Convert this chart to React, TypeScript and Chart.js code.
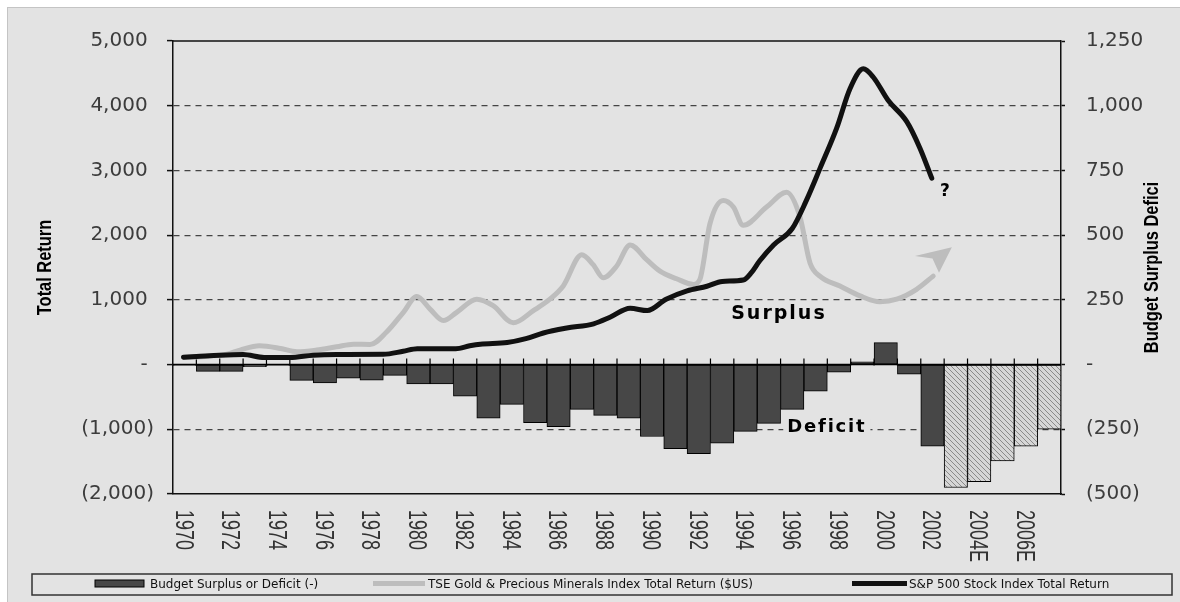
import React, { useEffect, useRef } from "react";
import { Chart, registerables } from "chart.js";

Chart.register(...registerables);

// Fiscal years; "E" marks an estimate
const yearLabels = [
  "1970", "1971", "1972", "1973", "1974", "1975", "1976", "1977", "1978", "1979",
  "1980", "1981", "1982", "1983", "1984", "1985", "1986", "1987", "1988", "1989",
  "1990", "1991", "1992", "1993", "1994", "1995", "1996", "1997", "1998", "1999",
  "2000", "2001", "2002", "2003E", "2004E", "2005E", "2006E", "2007E",
];

// Budget surplus (+) or deficit (-), right axis
const budgetBalance = [
  -3, -26, -26, -8, -3, -61, -71, -53, -60, -42,
  -75, -75, -122, -207, -154, -224, -240, -173, -196, -207,
  -278, -325, -344, -304, -258, -227, -173, -103, -29, 11,
  85, -37, -315, -475, -452, -372, -315, -250,
];

// S&P 500 Stock Index total return, left axis
const spYears = [
  1970.45, 1971.0, 1972.0, 1973.0, 1973.9, 1975.0, 1976.0, 1977.0, 1979.0, 1979.85,
  1980.45, 1982.1, 1982.7, 1983.15, 1984.3, 1985.1, 1985.85, 1986.85, 1988.0, 1988.7,
  1989.56, 1990.3, 1991.1, 1992.0, 1992.85, 1993.5, 1994.4, 1994.75, 1995.1, 1995.7,
  1996.5, 1997.1, 1997.7, 1998.4, 1998.97, 1999.54, 1999.97, 2000.6, 2001.4, 2001.96,
  2002.47,
];
const spTotalReturn = [
  115, 125, 145, 155, 110, 110, 145, 155, 158, 205,
  245, 245, 290, 315, 340, 400, 488, 564, 630, 731,
  870, 834, 1010, 1140, 1210, 1285, 1306, 1420, 1600, 1849,
  2103, 2534, 3043, 3653, 4263, 4570, 4440, 4084, 3754, 3348,
  2880,
];

// TSE Gold & Precious Minerals Index total return, left axis
const goldYears = [
  1970.45, 1971.5, 1972.3, 1972.87, 1973.7, 1974.6, 1975.3, 1976.15, 1977.0, 1977.72,
  1978.43, 1979.14, 1979.86, 1980.43, 1981.0, 1981.57, 1982.14, 1983.0, 1983.7, 1984.56,
  1985.42, 1986.13, 1986.7, 1987.49, 1987.98, 1988.41, 1988.98, 1989.56, 1990.27, 1990.84,
  1991.55, 1992.27, 1992.55, 1992.98, 1993.55, 1993.98, 1994.4, 1995.4, 1996.26, 1996.83,
  1997.26, 1997.68, 1998.54, 1999.4, 2000.25, 2000.97, 2001.82, 2002.53,
];
const goldTotalReturn = [
  110, 130, 160, 224, 290, 249, 198, 224, 274, 315,
  310, 503, 808, 1052, 858, 681, 808, 1010, 910, 645,
  834, 1010, 1215, 1696, 1544, 1341, 1519, 1849, 1620, 1443,
  1326, 1239, 1320, 2180, 2534, 2434, 2153, 2434, 2662, 2281,
  1570, 1367, 1215, 1062, 971, 1010, 1163, 1367,
];

const BG = "#e3e3e3";
const BAR_FILL = "#474747";
const GOLD = "#bdbdbd";
const SP = "#111111";

function withCommas(n: number): string {
  return String(Math.abs(n)).replace(/\B(?=(\d{3})+(?!\d))/g, ",");
}

function accounting(v: number): string {
  if (v === 0) return "-";
  return v < 0 ? `(${withCommas(v)})` : withCommas(v);
}

function condensedText(
  ctx: CanvasRenderingContext2D,
  text: string,
  x: number,
  y: number,
  rotation: number,
  squeeze: number,
  font: string,
  color: string,
  align: CanvasTextAlign
) {
  ctx.save();
  ctx.translate(x, y);
  ctx.rotate(rotation);
  ctx.scale(squeeze, 1);
  ctx.font = font;
  ctx.fillStyle = color;
  ctx.textAlign = align;
  ctx.textBaseline = "middle";
  ctx.fillText(text, 0, 0);
  ctx.restore();
}

const decorations = {
  id: "decorations",
  beforeDatasetsDraw(chart: any) {
    const { ctx, chartArea: a } = chart;
    ctx.save();
    ctx.strokeStyle = "#111";
    ctx.lineWidth = 1.5;
    ctx.beginPath();
    ctx.moveTo(a.left, a.top);
    ctx.lineTo(a.right, a.top);
    ctx.stroke();
    ctx.restore();
  },
  afterDatasetDraw(chart: any, args: any) {
    if (args.index !== 0) return;
    const { ctx, chartArea: a, scales } = chart;
    const y0 = scales.y.getPixelForValue(0);
    const xs = scales.x;
    ctx.save();
    ctx.strokeStyle = "#000";
    ctx.lineWidth = 1.5;
    ctx.beginPath();
    ctx.moveTo(a.left, y0);
    ctx.lineTo(a.right, y0);
    ctx.stroke();
    ctx.lineWidth = 1.2;
    ctx.beginPath();
    const n = chart.data.labels.length;
    for (let i = 1; i < n; i++) {
      const xb = (xs.getPixelForValue(i - 1) + xs.getPixelForValue(i)) / 2;
      ctx.moveTo(xb, y0 - 6);
      ctx.lineTo(xb, y0 + 1);
    }
    ctx.stroke();
    ctx.restore();
  },
  afterDraw(chart: any) {
    const { ctx, chartArea: a, scales } = chart;
    const xs = scales.x;
    const x2 = scales.x2;
    const ys = scales.y;
    const mid = (a.top + a.bottom) / 2;

    // category labels, every other year, reading downwards
    chart.data.labels.forEach((lab: string, i: number) => {
      if (i % 2) return;
      condensedText(ctx, lab, xs.getPixelForValue(i) - 2, a.bottom + 16, Math.PI / 2, 0.69,
        '26px "Liberation Sans"', "#333", "left");
    });

    // axis titles
    condensedText(ctx, "Total Return", 37, mid, -Math.PI / 2, 0.82,
      'bold 20px "Liberation Sans"', "#000", "center");
    condensedText(ctx, "Budget Surplus Defici", 1144, mid, -Math.PI / 2, 0.82,
      'bold 20px "Liberation Sans"', "#000", "center");

    // annotations
    ctx.save();
    ctx.fillStyle = "#000";
    ctx.textAlign = "center";
    ctx.textBaseline = "middle";
    ctx.font = 'bold 19px "DejaVu Sans"';
    (ctx as any).letterSpacing = "2px";
    ctx.fillText("Surplus", x2.getPixelForValue(1995.93), ys.getPixelForValue(785));

    ctx.font = 'bold 18px "DejaVu Sans"';
    (ctx as any).letterSpacing = "1.8px";
    const dx = x2.getPixelForValue(1997.98);
    const dy = ys.getPixelForValue(-975);
    const dw = ctx.measureText("Deficit").width;
    ctx.fillStyle = BG;
    ctx.fillRect(dx - dw / 2 - 4, dy - 9, dw + 8, 18);
    ctx.fillStyle = "#000";
    ctx.fillText("Deficit", dx, dy);

    (ctx as any).letterSpacing = "0px";
    ctx.font = 'bold 17px "DejaVu Sans"';
    ctx.fillText("?", x2.getPixelForValue(2003.03), ys.getPixelForValue(2667));

    // arrow head continuing the gold line
    ctx.fillStyle = GOLD;
    ctx.beginPath();
    ctx.moveTo(x2.getPixelForValue(2003.33), ys.getPixelForValue(1814));
    ctx.lineTo(x2.getPixelForValue(2001.75), ys.getPixelForValue(1676));
    ctx.lineTo(x2.getPixelForValue(2002.5), ys.getPixelForValue(1640));
    ctx.lineTo(x2.getPixelForValue(2002.78), ys.getPixelForValue(1417));
    ctx.closePath();
    ctx.fill();
    ctx.restore();

    // legend
    const ds = chart.data.datasets;
    ctx.save();
    ctx.strokeStyle = "#333";
    ctx.lineWidth = 1.5;
    ctx.strokeRect(24, 566, 1140, 21);
    ctx.fillStyle = BAR_FILL;
    ctx.fillRect(87, 572, 49, 7);
    ctx.strokeStyle = "#000";
    ctx.lineWidth = 1;
    ctx.strokeRect(87, 572, 49, 7);
    ctx.lineCap = "butt";
    ctx.lineWidth = 5;
    ctx.strokeStyle = ds[1].borderColor;
    ctx.beginPath();
    ctx.moveTo(365, 575.5);
    ctx.lineTo(417, 575.5);
    ctx.stroke();
    ctx.strokeStyle = ds[2].borderColor;
    ctx.beginPath();
    ctx.moveTo(844, 575.5);
    ctx.lineTo(899, 575.5);
    ctx.stroke();
    ctx.fillStyle = "#111";
    ctx.font = '12px "DejaVu Sans"';
    ctx.textAlign = "left";
    ctx.textBaseline = "middle";
    ctx.fillText(ds[0].label, 142, 577);
    ctx.fillText(ds[1].label, 420, 577);
    ctx.fillText(ds[2].label, 901, 577);
    ctx.restore();
  },
};

export default function App() {
  const canvasRef = useRef<HTMLCanvasElement | null>(null);

  useEffect(() => {
    const canvas = canvasRef.current;
    if (!canvas) return;

    // hatch fill for estimated years
    const tile = document.createElement("canvas");
    tile.width = 5;
    tile.height = 5;
    const t = tile.getContext("2d")!;
    t.fillStyle = "#d6d6d6";
    t.fillRect(0, 0, 5, 5);
    t.strokeStyle = "#8a8a8a";
    t.lineWidth = 1;
    t.beginPath();
    t.moveTo(-1, -1);
    t.lineTo(6, 6);
    t.moveTo(-1, 4);
    t.lineTo(1, 6);
    t.moveTo(4, -1);
    t.lineTo(6, 1);
    t.stroke();
    const hatch = canvas.getContext("2d")!.createPattern(tile, "repeat");

    const barFills = yearLabels.map((y) => (y.endsWith("E") ? hatch : BAR_FILL));

    const chart = new Chart(canvas, {
      type: "bar",
      data: {
        labels: yearLabels,
        datasets: [
          {
            type: "bar",
            label: "Budget Surplus or Deficit (-)",
            data: budgetBalance,
            xAxisID: "x",
            yAxisID: "y1",
            backgroundColor: barFills as any,
            borderColor: "#000",
            borderWidth: 1,
            borderSkipped: false,
            grouped: false,
            barPercentage: 1,
            categoryPercentage: 1,
            order: 3,
          },
          {
            type: "line",
            label: "TSE Gold & Precious Minerals Index Total Return ($US)",
            data: goldYears.map((x, i) => ({ x, y: goldTotalReturn[i] })),
            xAxisID: "x2",
            yAxisID: "y",
            borderColor: GOLD,
            borderWidth: 5,
            pointRadius: 0,
            cubicInterpolationMode: "monotone",
            borderCapStyle: "round",
            borderJoinStyle: "round",
            order: 2,
          },
          {
            type: "line",
            label: "S&P 500 Stock Index Total Return",
            data: spYears.map((x, i) => ({ x, y: spTotalReturn[i] })),
            xAxisID: "x2",
            yAxisID: "y",
            borderColor: SP,
            borderWidth: 5,
            pointRadius: 0,
            cubicInterpolationMode: "monotone",
            borderCapStyle: "round",
            borderJoinStyle: "round",
            order: 1,
          },
        ] as any,
      },
      options: {
        animation: false,
        responsive: false,
        layout: { padding: { top: 27, left: 0, right: 0, bottom: 0 } },
        plugins: { legend: { display: false }, tooltip: { enabled: false } },
        scales: {
          x: {
            type: "category",
            offset: true,
            grid: { display: false, drawTicks: false },
            border: { display: true, color: "#111", width: 1.5 },
            ticks: { display: false },
            afterFit: (s: any) => {
              s.height = 108;
            },
          },
          x2: {
            type: "linear",
            min: 1970,
            max: 2008,
            offset: false,
            display: false,
          },
          y: {
            position: "left",
            min: -2000,
            max: 5000,
            ticks: {
              stepSize: 1000,
              padding: 13,
              color: "#3c3c3c",
              font: { family: "DejaVu Sans", size: 20 },
              callback: (v: any) => (Number(v) < 0 ? accounting(Number(v)) : accounting(Number(v)) + " "),
            },
            grid: {
              color: (c: any) =>
                c.tick && [5000, 0, -2000].includes(c.tick.value) ? "rgba(0,0,0,0)" : "#444",
              lineWidth: 1.2,
              tickLength: 6,
              tickColor: "#111",
              tickWidth: 1.5,
            },
            border: { display: true, color: "#111", width: 1.5, dash: [6, 5] },
            afterFit: (s: any) => {
              s.width = 165;
            },
          },
          y1: {
            position: "right",
            min: -500,
            max: 1250,
            ticks: {
              stepSize: 250,
              padding: 21,
              color: "#3c3c3c",
              font: { family: "DejaVu Sans", size: 20 },
              callback: (v: any) => accounting(Number(v)),
            },
            grid: {
              drawOnChartArea: false,
              tickLength: 4,
              tickColor: "#111",
              tickWidth: 1.5,
            },
            border: { display: true, color: "#111", width: 1.5 },
            afterFit: (s: any) => {
              s.width = 119;
            },
          },
        },
      } as any,
      plugins: [decorations],
    });

    return () => chart.destroy();
  }, []);

  return (
    <div
      style={{
        position: "fixed",
        left: 7,
        top: 7,
        width: 1172,
        height: 594,
        background: BG,
        borderTop: "1px solid #c4c4c4",
        borderLeft: "1px solid #c4c4c4",
      }}
    >
      <canvas ref={canvasRef} width={1172} height={594} style={{ display: "block" }} />
    </div>
  );
}
